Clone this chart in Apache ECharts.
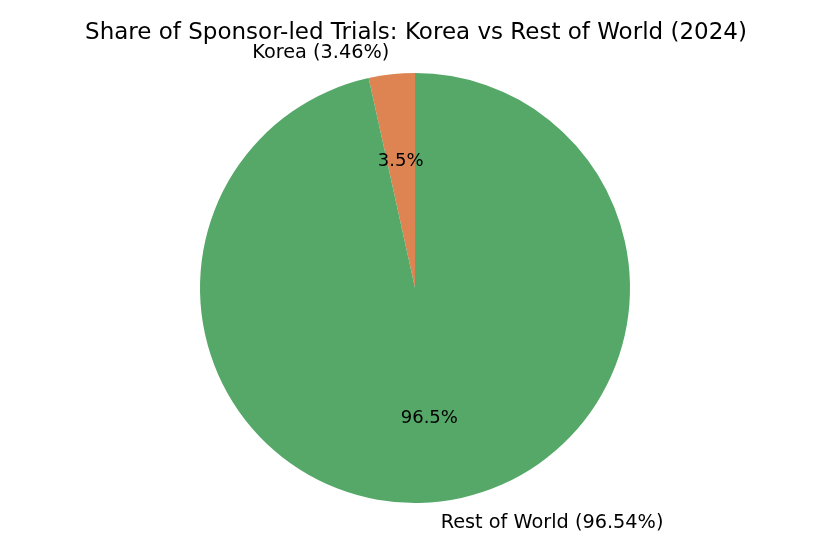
<!DOCTYPE html>
<html>
<head>
<meta charset="utf-8">
<script src="https://cdn.jsdelivr.net/npm/echarts@6/dist/echarts.min.js"></script>
<style>
  html, body { margin: 0; padding: 0; background: #fff; }
  #chart { width: 832px; height: 554px; }
</style>
</head>
<body>
<div id="chart"></div>
<script>
// data
const regions = ["Korea", "Rest of World"];
const shares = [3.46, 96.54];
const sliceColors = ["#dd8452", "#55a868"];

const R = 215; // pie radius in px
const pieData = regions.map((name, i) => ({
  name: name,
  value: shares[i],
  itemStyle: { color: sliceColors[i] }
}));

const myChart = echarts.init(document.getElementById("chart"));
const option = {
  animation: false,
  title: {
    text: "Share of Sponsor-led Trials: Korea vs Rest of World (2024)",
    left: "center",
    top: 17,
    textStyle: {
      fontFamily: "DejaVu Sans",
      fontSize: 23,
      fontWeight: "normal",
      color: "#000"
    }
  },
  series: [
    {
      // slices + outside labels at ~1.1R
      type: "pie",
      center: [415, 288],
      radius: [0, R],
      startAngle: 90,
      clockwise: false,
      avoidLabelOverlap: false,
      percentPrecision: 2,
      silent: true,
      data: pieData,
      label: {
        show: true,
        position: "outside",
        formatter: "{b} ({d}%)",
        fontFamily: "DejaVu Sans",
        fontSize: 19.3,
        color: "#000",
        distanceToLabelLine: 0
      },
      labelLine: { show: false, length: R * 0.1, length2: 0 }
    },
    {
      // transparent copy for autopct labels at 0.6R
      type: "pie",
      center: [415, 288],
      radius: [R * 0.2, R],
      startAngle: 90,
      clockwise: false,
      avoidLabelOverlap: false,
      percentPrecision: 1,
      silent: true,
      data: regions.map((name, i) => ({
        name: name,
        value: shares[i],
        label: i === 0 ? { offset: [0, 5] } : { offset: [0, -1] }
      })),
      itemStyle: { color: "rgba(0,0,0,0)" },
      label: {
        show: true,
        position: "inside",
        formatter: "{d}%",
        fontFamily: "DejaVu Sans",
        fontSize: 18,
        color: "#000"
      },
      labelLine: { show: false }
    }
  ]
};
myChart.setOption(option);
</script>
</body>
</html>
